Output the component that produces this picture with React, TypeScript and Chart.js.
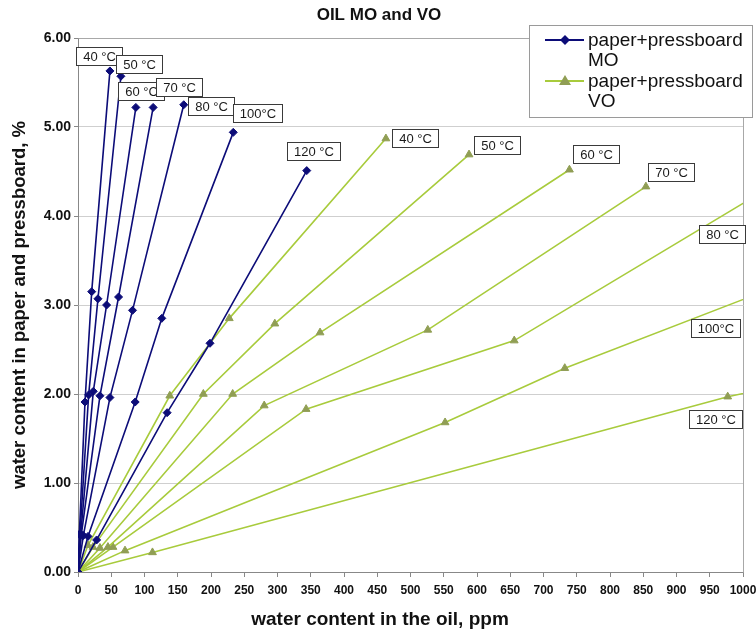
import React, { useEffect, useRef } from "react";
import { Chart, registerables } from "chart.js";

Chart.register(...registerables);

const TITLE = "OIL MO and VO";
const X_TITLE = "water content in the oil, ppm";
const Y_TITLE = "water content in paper and pressboard, %";
const LEGEND_MO = ["paper+pressboard", "MO"];
const LEGEND_VO = ["paper+pressboard", "VO"];
const TEMP_LABELS = ["40 °C", "50 °C", "60 °C", "70 °C", "80 °C", "100°C", "120 °C"];

// [water in oil ppm, water in paper %]
const MO_40: [number, number][] = [[0, 0], [2, 0.42], [10.5, 1.91], [20.6, 3.15], [48, 5.63]];
const MO_50: [number, number][] = [[0, 0], [3, 0.43], [16, 1.99], [30, 3.07], [64.5, 5.57]];
const MO_60: [number, number][] = [[0, 0], [4, 0.42], [23, 2.03], [43, 3.0], [87, 5.22]];
const MO_70: [number, number][] = [[0, 0], [5, 0.42], [33, 1.98], [61, 3.09], [113, 5.22]];
const MO_80: [number, number][] = [[0, 0], [8, 0.41], [48, 1.96], [82, 2.94], [159, 5.25]];
const MO_100: [number, number][] = [[0, 0], [15, 0.4], [86, 1.91], [126, 2.85], [233.5, 4.94]];
const MO_120: [number, number][] = [[0, 0], [28, 0.36], [134, 1.79], [198.5, 2.57], [344, 4.51]];

const VO_40: [number, number][] = [[0, 0], [15, 0.3], [138, 1.98], [227.5, 2.85], [463, 4.87]];
const VO_50: [number, number][] = [[0, 0], [22.5, 0.28], [188.5, 2.0], [296, 2.79], [588, 4.69]];
const VO_60: [number, number][] = [[0, 0], [33, 0.27], [232.6, 2.0], [364, 2.69], [739, 4.52]];
const VO_70: [number, number][] = [[0, 0], [45, 0.28], [280, 1.87], [526, 2.72], [854, 4.33]];
const VO_80: [number, number][] = [[0, 0], [52.6, 0.28], [343, 1.83], [656, 2.6], [1100, 4.59]];
const VO_100: [number, number][] = [[0, 0], [70.7, 0.24], [552, 1.68], [732, 2.29], [1100, 3.35]];
const VO_120: [number, number][] = [[0, 0], [112, 0.22], [977, 1.97], [1100, 2.16]];

const MO_SERIES = [MO_40, MO_50, MO_60, MO_70, MO_80, MO_100, MO_120];
const VO_SERIES = [VO_40, VO_50, VO_60, VO_70, VO_80, VO_100, VO_120];

const X_MIN = 0;
const X_MAX = 1000;
const X_STEP = 50;
const Y_MIN = 0;
const Y_MAX = 6;
const Y_STEP = 1;

// styling
const W = 756;
const H = 636;
const FONT = '"Liberation Sans", Arial, sans-serif';
const MO_COLOR = "#0c0c78";
const VO_LINE = "#a8cb3c";
const VO_MARK = "#909e54";
const MO_LABEL_OFFSETS = [[-34, -24], [-5, -21], [-18, -25], [3, -29], [4, -8], [0, -28], [-20, -29]];
const VO_LABEL_OFFSETS = [[6, -10], [5, -19], [4, -25], [2, -24], [-44, 22], [-52, 20], [-54, 16]];

const toPts = (arr: [number, number][]) => arr.map(([x, y]) => ({ x, y }));

const labelPlugin = {
  id: "tempLabels",
  afterDatasetsDraw(chart: any) {
    const ctx = chart.ctx;
    const xs = chart.scales.x;
    const ys = chart.scales.y;
    ctx.save();
    ctx.font = `13px ${FONT}`;
    chart.data.datasets.forEach((ds: any) => {
      const lab = ds.tempLabel;
      if (!lab) return;
      const pts = ds.data;
      let p = pts[pts.length - 1];
      if (p.x > xs.max) {
        const q = pts[pts.length - 2];
        const t = (xs.max - q.x) / (p.x - q.x);
        p = { x: xs.max, y: q.y + t * (p.y - q.y) };
      }
      const px = xs.getPixelForValue(p.x);
      const py = ys.getPixelForValue(p.y);
      const w = Math.round(ctx.measureText(lab.text).width + 13);
      const h = 18;
      const bx = Math.round(px + lab.dx) + 0.5;
      const by = Math.round(py + lab.dy) + 0.5;
      ctx.fillStyle = "#ffffff";
      ctx.fillRect(bx, by, w, h);
      ctx.strokeStyle = "#3a3a3a";
      ctx.lineWidth = 1;
      ctx.strokeRect(bx, by, w, h);
      ctx.fillStyle = "#1a1a1a";
      ctx.textAlign = "center";
      ctx.textBaseline = "middle";
      ctx.fillText(lab.text, bx + w / 2, by + h / 2 + 1);
    });
    ctx.restore();
  },
};

const framePlugin = {
  id: "frame",
  beforeDatasetsDraw(chart: any) {
    const { ctx, chartArea: a } = chart;
    ctx.save();
    ctx.strokeStyle = "#a8a8a8";
    ctx.lineWidth = 1;
    ctx.beginPath();
    ctx.moveTo(Math.round(a.left) + 0.5, Math.round(a.top) + 0.5);
    ctx.lineTo(Math.round(a.right) + 0.5, Math.round(a.top) + 0.5);
    ctx.lineTo(Math.round(a.right) + 0.5, Math.round(a.bottom) + 0.5);
    ctx.stroke();
    ctx.restore();
  },
};

const textPlugin = {
  id: "texts",
  afterDraw(chart: any) {
    const ctx = chart.ctx;
    ctx.save();
    ctx.fillStyle = "#111";
    ctx.textAlign = "center";
    ctx.textBaseline = "middle";
    ctx.font = `bold 17px ${FONT}`;
    ctx.fillText(TITLE, 379, 15);
    ctx.font = `bold 19px ${FONT}`;
    ctx.fillText(X_TITLE, 380, 620);
    ctx.font = `bold 18.5px ${FONT}`;
    ctx.translate(20, 305);
    ctx.rotate(-Math.PI / 2);
    ctx.fillText(Y_TITLE, 0, 0);
    ctx.restore();

    // legend
    ctx.save();
    ctx.fillStyle = "#ffffff";
    ctx.fillRect(529.5, 25.5, 223, 92);
    ctx.strokeStyle = "#9a9a9a";
    ctx.lineWidth = 1;
    ctx.strokeRect(529.5, 25.5, 223, 92);
    const rows = [
      { lines: LEGEND_MO, y: 40, color: MO_COLOR, mark: "diamond" },
      { lines: LEGEND_VO, y: 81, color: VO_LINE, mark: "triangle" },
    ];
    rows.forEach((r) => {
      ctx.strokeStyle = r.color;
      ctx.lineWidth = 2;
      ctx.beginPath();
      ctx.moveTo(545, r.y);
      ctx.lineTo(584, r.y);
      ctx.stroke();
      const cx = 565;
      ctx.beginPath();
      if (r.mark === "diamond") {
        ctx.fillStyle = MO_COLOR;
        ctx.moveTo(cx - 5, r.y);
        ctx.lineTo(cx, r.y - 5);
        ctx.lineTo(cx + 5, r.y);
        ctx.lineTo(cx, r.y + 5);
      } else {
        ctx.fillStyle = VO_MARK;
        ctx.moveTo(cx - 6, r.y + 4);
        ctx.lineTo(cx, r.y - 6);
        ctx.lineTo(cx + 6, r.y + 4);
      }
      ctx.closePath();
      ctx.fill();
      ctx.fillStyle = "#111";
      ctx.font = `19px ${FONT}`;
      ctx.textAlign = "left";
      ctx.textBaseline = "middle";
      ctx.fillText(r.lines[0], 588, r.y + 1);
      ctx.fillText(r.lines[1], 588, r.y + 21);
    });
    ctx.restore();
  },
};

export default function App() {
  const ref = useRef<HTMLCanvasElement | null>(null);
  useEffect(() => {
    if (!ref.current) return;
    const datasets: any[] = [];
    MO_SERIES.forEach((s, i) => {
      datasets.push({
        label: "MO " + TEMP_LABELS[i],
        data: toPts(s),
        showLine: true,
        borderColor: MO_COLOR,
        backgroundColor: MO_COLOR,
        borderWidth: 1.6,
        pointStyle: "rectRot",
        pointRadius: 4,
        pointBorderWidth: 1,
        pointHoverRadius: 4,
        tempLabel: { text: TEMP_LABELS[i], dx: MO_LABEL_OFFSETS[i][0], dy: MO_LABEL_OFFSETS[i][1] },
      });
    });
    VO_SERIES.forEach((s, i) => {
      datasets.push({
        label: "VO " + TEMP_LABELS[i],
        data: toPts(s),
        showLine: true,
        borderColor: VO_LINE,
        backgroundColor: VO_MARK,
        pointBorderColor: VO_MARK,
        borderWidth: 1.6,
        pointStyle: "triangle",
        pointRadius: 4.5,
        pointBorderWidth: 1,
        pointHoverRadius: 4.5,
        tempLabel: { text: TEMP_LABELS[i], dx: VO_LABEL_OFFSETS[i][0], dy: VO_LABEL_OFFSETS[i][1] },
      });
    });
    const chart = new Chart(ref.current, {
      type: "scatter",
      data: { datasets },
      options: {
        animation: false,
        responsive: false,
        maintainAspectRatio: false,
        layout: { padding: { top: 38, right: 13, left: 8, bottom: 0 } },
        plugins: { legend: { display: false }, title: { display: false }, tooltip: { enabled: false } },
        scales: {
          x: {
            type: "linear",
            min: X_MIN,
            max: X_MAX,
            afterFit: (s: any) => {
              s.height = 64;
              s.paddingLeft = 0;
              s.paddingRight = 0;
            },
            ticks: {
              stepSize: X_STEP,
              maxRotation: 0,
              autoSkip: false,
              padding: 6,
              color: "#111",
              callback: (v: any) => String(v),
              font: { family: FONT, size: 12, weight: "bold" },
            },
            grid: { drawOnChartArea: false, drawTicks: true, tickLength: 5, color: "#888" },
            border: { color: "#888", width: 1 },
          },
          y: {
            type: "linear",
            min: Y_MIN,
            max: Y_MAX,
            afterFit: (s: any) => {
              s.width = 70;
            },
            ticks: {
              stepSize: Y_STEP,
              padding: 3,
              color: "#111",
              callback: (v: any) => Number(v).toFixed(2),
              font: { family: FONT, size: 14, weight: "bold" },
            },
            grid: { color: "#cfcfcf", tickColor: "#888", drawTicks: true, tickLength: 4 },
            border: { color: "#888", width: 1 },
          },
        },
      },
      plugins: [framePlugin, labelPlugin, textPlugin],
    } as any);
    return () => chart.destroy();
  }, []);
  return (
    <div style={{ position: "fixed", left: 0, top: 0, width: W, height: H, background: "#fff" }}>
      <canvas ref={ref} width={W} height={H} style={{ display: "block", width: W, height: H }} />
    </div>
  );
}
